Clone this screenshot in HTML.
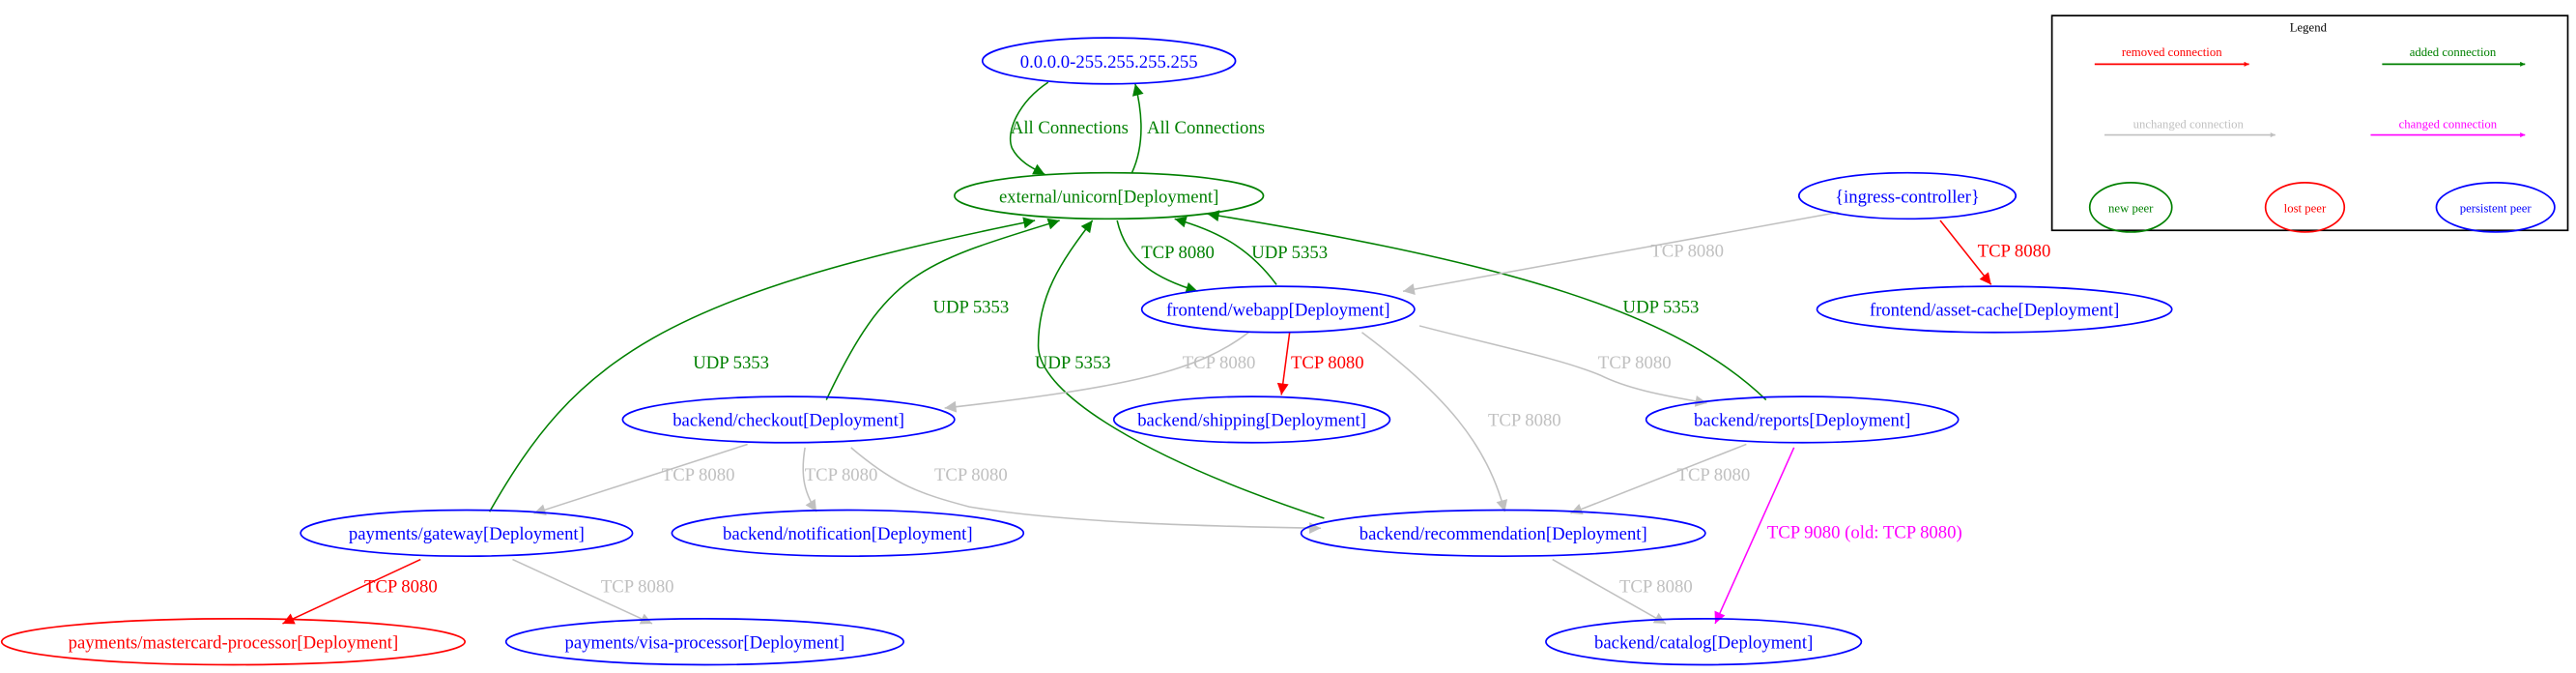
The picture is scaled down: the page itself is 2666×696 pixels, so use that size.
<!DOCTYPE html>
<html><head><meta charset="utf-8"><style>
html,body{margin:0;padding:0;background:#fff;}
svg{display:block;}
text{font-family:"Liberation Serif",serif;}
</style></head><body>
<svg width="2666" height="696" viewBox="0 0 1568 409" preserveAspectRatio="none" xmlns="http://www.w3.org/2000/svg">
<defs>
<marker id="ag" viewBox="0 0 10 10" refX="10" refY="5" markerWidth="9" markerHeight="7" markerUnits="userSpaceOnUse" orient="auto"><path d="M0,0L10,5L0,10z" fill="green"/></marker>
<marker id="ar" viewBox="0 0 10 10" refX="10" refY="5" markerWidth="9" markerHeight="7" markerUnits="userSpaceOnUse" orient="auto"><path d="M0,0L10,5L0,10z" fill="red"/></marker>
<marker id="ay" viewBox="0 0 10 10" refX="10" refY="5" markerWidth="9" markerHeight="7" markerUnits="userSpaceOnUse" orient="auto"><path d="M0,0L10,5L0,10z" fill="#c0c0c0"/></marker>
<marker id="am" viewBox="0 0 10 10" refX="10" refY="5" markerWidth="9" markerHeight="7" markerUnits="userSpaceOnUse" orient="auto"><path d="M0,0L10,5L0,10z" fill="magenta"/></marker>
<marker id="sr" viewBox="0 0 10 10" refX="10" refY="5" markerWidth="4" markerHeight="3" markerUnits="userSpaceOnUse" orient="auto"><path d="M0,0L10,5L0,10z" fill="red"/></marker>
<marker id="sg" viewBox="0 0 10 10" refX="10" refY="5" markerWidth="4" markerHeight="3" markerUnits="userSpaceOnUse" orient="auto"><path d="M0,0L10,5L0,10z" fill="green"/></marker>
<marker id="sy" viewBox="0 0 10 10" refX="10" refY="5" markerWidth="4" markerHeight="3" markerUnits="userSpaceOnUse" orient="auto"><path d="M0,0L10,5L0,10z" fill="#c0c0c0"/></marker>
<marker id="sm" viewBox="0 0 10 10" refX="10" refY="5" markerWidth="4" markerHeight="3" markerUnits="userSpaceOnUse" orient="auto"><path d="M0,0L10,5L0,10z" fill="magenta"/></marker>
</defs>
<g fill="none" stroke-width="0.9">
<!-- green edges -->
<path d="M638,50 C620,62 612,80 616,90 C620,98 628,102 636,106" stroke="green" marker-end="url(#ag)"/>
<path d="M689,105 C695,92 697,75 691,51" stroke="green" marker-end="url(#ag)"/>
<path d="M680,134 C686,160 706,170 729,177" stroke="green" marker-end="url(#ag)"/>
<path d="M777,173 C760,150 740,140 715,133" stroke="green" marker-end="url(#ag)"/>
<path d="M1075,243 C1020,190 920,160 735,130" stroke="green" marker-end="url(#ag)"/>
<path d="M503,243 C540,165 560,160 645,134" stroke="green" marker-end="url(#ag)"/>
<path d="M298,311 C350,220 400,180 630,134" stroke="green" marker-end="url(#ag)"/>
<path d="M806,315 C700,280 632,240 632,210 C632,180 645,160 665,134" stroke="green" marker-end="url(#ag)"/>
<!-- gray -->
<path d="M1119,129 L854,177" stroke="#c0c0c0" marker-end="url(#ay)"/>
<path d="M760,202 C730,225 690,235 575,248" stroke="#c0c0c0" marker-end="url(#ay)"/>
<path d="M829,202 C880,240 905,270 916,311" stroke="#c0c0c0" marker-end="url(#ay)"/>
<path d="M864,198 C910,210 950,218 974,228 C990,236 1010,240 1039,245" stroke="#c0c0c0" marker-end="url(#ay)"/>
<path d="M455,270 L325,312" stroke="#c0c0c0" marker-end="url(#ay)"/>
<path d="M490,272 C487,290 490,300 497,311" stroke="#c0c0c0" marker-end="url(#ay)"/>
<path d="M518,272 C545,295 560,300 590,308 C650,318 740,320 804,321" stroke="#c0c0c0" marker-end="url(#ay)"/>
<path d="M1063,270 L956,312" stroke="#c0c0c0" marker-end="url(#ay)"/>
<path d="M945,340 L1014,379" stroke="#c0c0c0" marker-end="url(#ay)"/>
<path d="M312,340 L397,379" stroke="#c0c0c0" marker-end="url(#ay)"/>
<!-- red -->
<path d="M1181,134 L1212,173" stroke="red" marker-end="url(#ar)"/>
<path d="M785,202 L780,240" stroke="red" marker-end="url(#ar)"/>
<path d="M256,340 L172,379" stroke="red" marker-end="url(#ar)"/>
<!-- magenta -->
<path d="M1092,272 L1044,379" stroke="magenta" marker-end="url(#am)"/>
</g>
<!-- edge labels -->
<g font-size="11" text-anchor="middle">
<text x="651" y="81" fill="green">All Connections</text>
<text x="734" y="81" fill="green">All Connections</text>
<text x="717" y="157" fill="green">TCP 8080</text>
<text x="785" y="157" fill="green">UDP 5353</text>
<text x="1011" y="190" fill="green">UDP 5353</text>
<text x="591" y="190" fill="green">UDP 5353</text>
<text x="445" y="224" fill="green">UDP 5353</text>
<text x="653" y="224" fill="green">UDP 5353</text>
<text x="1027" y="156" fill="#c0c0c0">TCP 8080</text>
<text x="1226" y="156" fill="red">TCP 8080</text>
<text x="742" y="224" fill="#c0c0c0">TCP 8080</text>
<text x="808" y="224" fill="red">TCP 8080</text>
<text x="928" y="259" fill="#c0c0c0">TCP 8080</text>
<text x="995" y="224" fill="#c0c0c0">TCP 8080</text>
<text x="425" y="292" fill="#c0c0c0">TCP 8080</text>
<text x="512" y="292" fill="#c0c0c0">TCP 8080</text>
<text x="591" y="292" fill="#c0c0c0">TCP 8080</text>
<text x="1043" y="292" fill="#c0c0c0">TCP 8080</text>
<text x="1135" y="327" fill="magenta">TCP 9080 (old: TCP 8080)</text>
<text x="1008" y="360" fill="#c0c0c0">TCP 8080</text>
<text x="244" y="360" fill="red">TCP 8080</text>
<text x="388" y="360" fill="#c0c0c0">TCP 8080</text>
</g>
<!-- nodes -->
<g fill="none" stroke-width="1">
<ellipse cx="675" cy="37" rx="77" ry="14" stroke="blue"/>
<ellipse cx="675" cy="119" rx="94" ry="14" stroke="green"/>
<ellipse cx="778" cy="188" rx="83" ry="14" stroke="blue"/>
<ellipse cx="1161" cy="119" rx="66" ry="14" stroke="blue"/>
<ellipse cx="1214" cy="188" rx="108" ry="14" stroke="blue"/>
<ellipse cx="480" cy="255" rx="101" ry="14" stroke="blue"/>
<ellipse cx="762" cy="255" rx="84" ry="14" stroke="blue"/>
<ellipse cx="1097" cy="255" rx="95" ry="14" stroke="blue"/>
<ellipse cx="284" cy="324" rx="101" ry="14" stroke="blue"/>
<ellipse cx="516" cy="324" rx="107" ry="14" stroke="blue"/>
<ellipse cx="915" cy="324" rx="123" ry="14" stroke="blue"/>
<ellipse cx="142" cy="390" rx="141" ry="14" stroke="red"/>
<ellipse cx="429" cy="390" rx="121" ry="14" stroke="blue"/>
<ellipse cx="1037" cy="390" rx="96" ry="14" stroke="blue"/>
</g>
<g font-size="11" text-anchor="middle" fill="blue">
<text x="675" y="41">0.0.0.0-255.255.255.255</text>
<text x="675" y="123" fill="green">external/unicorn[Deployment]</text>
<text x="778" y="192">frontend/webapp[Deployment]</text>
<text x="1161" y="123">{ingress-controller}</text>
<text x="1214" y="192">frontend/asset-cache[Deployment]</text>
<text x="480" y="259">backend/checkout[Deployment]</text>
<text x="762" y="259">backend/shipping[Deployment]</text>
<text x="1097" y="259">backend/reports[Deployment]</text>
<text x="284" y="328">payments/gateway[Deployment]</text>
<text x="516" y="328">backend/notification[Deployment]</text>
<text x="915" y="328">backend/recommendation[Deployment]</text>
<text x="142" y="394" fill="red">payments/mastercard-processor[Deployment]</text>
<text x="429" y="394">payments/visa-processor[Deployment]</text>
<text x="1037" y="394">backend/catalog[Deployment]</text>
</g>
<!-- legend -->
<rect x="1249" y="9.5" width="314" height="130.5" fill="none" stroke="#000" stroke-width="1"/>
<g font-size="7.5" text-anchor="middle">
<text x="1405" y="19" fill="#000">Legend</text>
<text x="1322" y="34" fill="red">removed connection</text>
<text x="1493" y="34" fill="green">added connection</text>
<text x="1332" y="78" fill="#c0c0c0">unchanged connection</text>
<text x="1490" y="78" fill="magenta">changed connection</text>
<text x="1297" y="129" fill="green">new peer</text>
<text x="1403" y="129" fill="red">lost peer</text>
<text x="1519" y="129" fill="blue">persistent peer</text>
</g>
<g fill="none" stroke-width="1">
<line x1="1275" y1="39" x2="1369" y2="39" stroke="red" marker-end="url(#sr)"/>
<line x1="1450" y1="39" x2="1537" y2="39" stroke="green" marker-end="url(#sg)"/>
<line x1="1281" y1="82" x2="1385" y2="82" stroke="#c0c0c0" marker-end="url(#sy)"/>
<line x1="1443" y1="82" x2="1537" y2="82" stroke="magenta" marker-end="url(#sm)"/>
<ellipse cx="1297" cy="126" rx="25" ry="15" stroke="green"/>
<ellipse cx="1403" cy="126" rx="24" ry="15" stroke="red"/>
<ellipse cx="1519" cy="126" rx="36" ry="15" stroke="blue"/>
</g>
</svg>
</body></html>
